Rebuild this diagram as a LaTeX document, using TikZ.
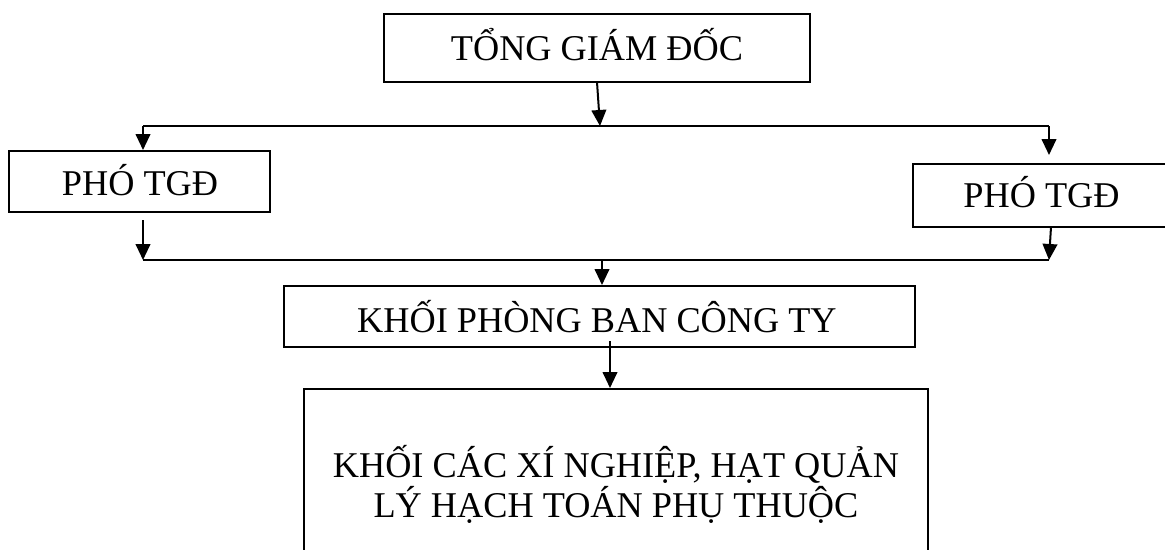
\documentclass[tikz,border=0pt]{standalone}
\usepackage{fontspec}
\setmainfont{Liberation Serif}
\usetikzlibrary{arrows.meta,fit}
\begin{document}
\begin{tikzpicture}[x=0.75pt,y=-0.75pt,
  box/.style={draw,line width=1.5pt,inner sep=0pt},
  txt/.style={anchor=base,inner sep=0pt,font=\fontsize{27.2pt}{32pt}\selectfont},
  conn/.style={line width=1.5pt},
  arr/.style={conn,-{Triangle[length=12pt,width=11pt]}}]
\fill[white] (0,0) rectangle (1165,550);
\clip (0,0) rectangle (1165,550);
% boxes
\node (T) [box, fit={(384,14) (810,82)}] {};
\node (L) [box, fit={(9,151) (270,212)}] {};
\node (R) [box, fit={(913,164) (1170,227)}] {};
\node (K) [box, fit={(284,286) (915,347)}] {};
\node (B) [box, fit={(304,389) (928,582)}] {};
% texts
\node (Tt) [txt] at (597,60) {TỔNG GIÁM ĐỐC};
\node (Lt) [txt] at (140,195) {PHÓ TGĐ};
\node (Rt) [txt] at (1041.5,207) {PHÓ TGĐ};
\node (Kt) [txt] at (597,332) {KHỐI PHÒNG BAN CÔNG TY};
\node (Bt1) [txt] at (616,477) {KHỐI CÁC XÍ NGHIỆP, HẠT QUẢN};
\node (Bt2) [txt] at (616,517) {LÝ HẠCH TOÁN PHỤ THUỘC};
% connectors
\coordinate (ts) at (597,82);
\coordinate (a1) at (143,126);
\coordinate (a2) at (1049,126);
\coordinate (am) at (600,126);
\coordinate (rtip) at (1049,155);
\coordinate (ls) at (143,220);
\coordinate (rs) at (1051,227);
\coordinate (b1) at (143,260);
\coordinate (b2) at (1049,260);
\coordinate (km) at (602,260);
\coordinate (ks) at (610,341);
\draw[arr] (ts) -- (am);
\draw[conn] (a1) -- (a2);
\draw[arr] (a1) -- (a1 |- L.north);
\draw[arr] (a2) -- (rtip);
\draw[arr] (ls) -- (b1);
\draw[arr] (rs) -- (b2);
\draw[conn] (b1) -- (b2);
\draw[arr] (km) -- (km |- K.north);
\draw[arr] (ks) -- (ks |- B.north);
\end{tikzpicture}
\end{document}
